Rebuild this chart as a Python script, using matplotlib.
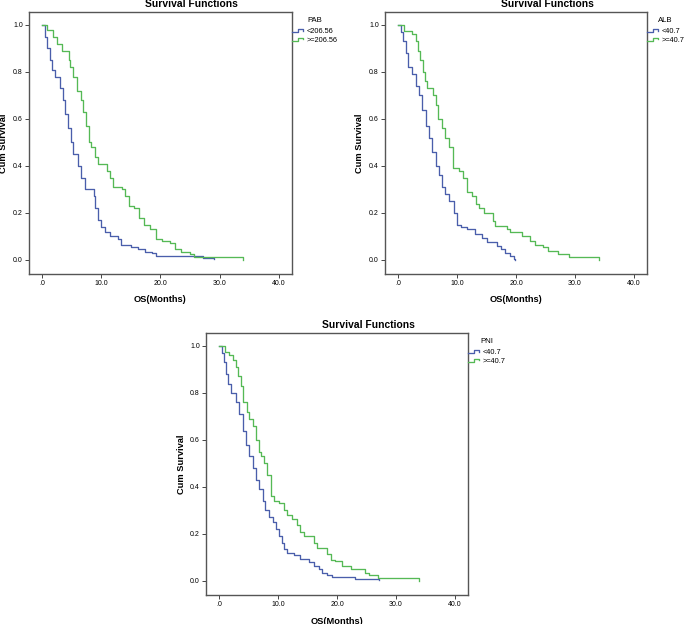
import matplotlib
matplotlib.use('Agg')
import matplotlib.pyplot as plt
import numpy as np
from matplotlib.lines import Line2D
from matplotlib.legend_handler import HandlerBase

plt.rcParams['font.family'] = ['Liberation Sans', 'DejaVu Sans']

# Kaplan-Meier curves: (time, survival after step)
pab_low_t = [0, 0.5, 0.85, 1.3, 1.7, 2.2, 3.0, 3.5, 3.9, 4.4, 4.9, 5.2, 6.0, 6.5, 7.3, 8.7, 9.0, 9.5,
             10.0, 10.6, 11.5, 12.8, 13.4, 15.0, 16.2, 17.4, 18.5, 19.2, 27.2, 29.0]
pab_low_s = [1.0, 0.95, 0.90, 0.85, 0.81, 0.78, 0.73, 0.68, 0.62, 0.56, 0.50, 0.45, 0.40, 0.35, 0.30, 0.27,
             0.22, 0.17, 0.14, 0.12, 0.10, 0.09, 0.065, 0.055, 0.045, 0.035, 0.028, 0.018, 0.008, 0.003]
pab_high_t = [0, 0.8, 1.9, 2.6, 3.4, 4.5, 4.8, 5.3, 5.9, 6.5, 7.0, 7.5, 7.9, 8.3, 9.0, 9.5, 10.9, 11.4,
              11.9, 13.5, 14.0, 14.7, 15.5, 16.4, 17.2, 18.2, 19.2, 20.3, 21.6, 22.5, 23.5, 25.0, 25.7, 34.0]
pab_high_s = [1.0, 0.98, 0.95, 0.92, 0.89, 0.85, 0.82, 0.78, 0.72, 0.68, 0.63, 0.57, 0.50, 0.48, 0.44, 0.41,
              0.38, 0.35, 0.31, 0.30, 0.27, 0.23, 0.22, 0.18, 0.15, 0.13, 0.09, 0.08, 0.07, 0.045, 0.035,
              0.025, 0.012, 0.0]

alb_low_t = [0, 0.45, 0.85, 1.3, 1.7, 2.3, 3.0, 3.5, 4.1, 4.7, 5.2, 5.7, 6.4, 6.9, 7.5, 7.9, 8.6, 9.5,
             10.0, 10.6, 11.7, 13.1, 14.3, 15.1, 16.8, 17.4, 18.2, 19.0, 19.6, 19.9]
alb_low_s = [1.0, 0.97, 0.93, 0.88, 0.82, 0.79, 0.74, 0.70, 0.64, 0.57, 0.52, 0.46, 0.40, 0.36, 0.31, 0.28,
             0.25, 0.20, 0.15, 0.14, 0.13, 0.11, 0.095, 0.075, 0.06, 0.045, 0.03, 0.015, 0.005, 0.0]
alb_high_t = [0, 1.0, 2.4, 3.0, 3.4, 3.8, 4.2, 4.6, 5.0, 5.9, 6.4, 6.8, 7.5, 7.9, 8.6, 9.3, 10.3, 11.0,
              11.7, 12.6, 13.3, 13.8, 14.5, 16.1, 16.5, 18.5, 18.9, 21.0, 22.4, 23.3, 24.5, 25.5, 27.2,
              28.9, 34.0]
alb_high_s = [1.0, 0.975, 0.96, 0.93, 0.89, 0.85, 0.80, 0.76, 0.73, 0.70, 0.66, 0.60, 0.56, 0.52, 0.48,
              0.39, 0.38, 0.35, 0.29, 0.27, 0.24, 0.22, 0.20, 0.165, 0.145, 0.13, 0.12, 0.10, 0.08, 0.065,
              0.055, 0.04, 0.025, 0.012, 0.0]

pni_low_t = [0, 0.45, 0.8, 1.2, 1.6, 2.0, 2.9, 3.4, 4.0, 4.6, 5.1, 5.7, 6.2, 6.8, 7.4, 7.8, 8.5, 9.1,
             9.6, 10.2, 10.6, 11.0, 11.6, 12.7, 13.8, 15.2, 16.1, 16.9, 17.5, 18.3, 19.2, 20.0, 23.1, 27.2]
pni_low_s = [1.0, 0.97, 0.93, 0.88, 0.84, 0.80, 0.76, 0.71, 0.64, 0.58, 0.53, 0.48, 0.43, 0.39, 0.34,
             0.30, 0.27, 0.25, 0.22, 0.19, 0.16, 0.135, 0.12, 0.11, 0.095, 0.08, 0.065, 0.05, 0.035, 0.025,
             0.018, 0.015, 0.008, 0.003]
pni_high_t = [0, 1.1, 1.7, 2.3, 2.9, 3.3, 3.7, 4.1, 4.7, 5.1, 5.7, 6.2, 6.7, 7.1, 7.6, 8.2, 8.8, 9.3,
              10.2, 11.0, 11.6, 12.4, 13.3, 13.8, 14.4, 16.1, 16.6, 18.3, 18.9, 19.7, 20.9, 22.4, 24.7,
              25.4, 26.9, 28.7, 33.9]
pni_high_s = [1.0, 0.975, 0.96, 0.94, 0.91, 0.87, 0.83, 0.76, 0.72, 0.69, 0.66, 0.60, 0.55, 0.53, 0.50,
              0.45, 0.36, 0.34, 0.33, 0.30, 0.28, 0.265, 0.24, 0.21, 0.19, 0.16, 0.14, 0.115, 0.09, 0.085,
              0.065, 0.05, 0.035, 0.025, 0.012, 0.012, 0.0]

panels = [
    ('PAB', ['<206.56', '>=206.56'], (pab_low_t, pab_low_s), (pab_high_t, pab_high_s)),
    ('ALB', ['<40.7', '>=40.7'], (alb_low_t, alb_low_s), (alb_high_t, alb_high_s)),
    ('PNI', ['<40.7', '>=40.7'], (pni_low_t, pni_low_s), (pni_high_t, pni_high_s)),
]

x_ticks = [0, 10, 20, 30, 40]
x_tick_labels = ['.0', '10.0', '20.0', '30.0', '40.0']
y_ticks = [0.0, 0.2, 0.4, 0.6, 0.8, 1.0]
y_tick_labels = ['0.0', '0.2', '0.4', '0.6', '0.8', '1.0']

blue = '#4a5eab'
green = '#55b955'


class StepHandler(HandlerBase):
    # little step glyph like the SPSS legend
    def create_artists(self, legend, orig_handle, xdescent, ydescent, width, height, fontsize, trans):
        xs = np.array([0, 0.45, 0.45, 0.9, 0.9]) * width - xdescent
        ys = np.array([0.2, 0.2, 0.85, 0.85, 0.5]) * height - ydescent
        ln = Line2D(xs, ys, color=orig_handle.get_color(), lw=orig_handle.get_linewidth())
        ln.set_transform(trans)
        return [ln]


W, H = 685, 624
fig = plt.figure(figsize=(W / 100, H / 100), dpi=100)

# axes boxes in pixels: left, top, width, height
boxes = [(29, 12, 263, 262), (385, 12, 262, 262), (206, 333, 262, 262)]

for (name, labels, low, high), (l, t, w, h) in zip(panels, boxes):
    ax = fig.add_axes([l / W, 1 - (t + h) / H, w / W, h / H])
    l1, = ax.step(low[0], low[1], where='post', color=blue, lw=0.95)
    l2, = ax.step(high[0], high[1], where='post', color=green, lw=0.95)
    ax.set_xlim(-2.2, 42.2)
    ax.set_ylim(-0.06, 1.055)
    ax.set_xticks(x_ticks)
    ax.set_xticklabels(x_tick_labels)
    ax.set_yticks(y_ticks)
    ax.set_yticklabels(y_tick_labels)
    ax.tick_params(labelsize=5, length=3, width=0.7, pad=1.5, color='#444444')
    for sp in ax.spines.values():
        sp.set_color('#555555')
        sp.set_linewidth(1.0)
    ax.set_xlabel('OS(Months)', fontsize=6.7, fontweight='bold')
    ax.set_ylabel('Cum Survival', fontsize=6.7, fontweight='bold')
    ax.xaxis.set_label_coords(0.5, -21.5 / h)
    ax.yaxis.set_label_coords(-20.5 / w, 0.5)
    ax.text(0.5 + 31 / w, 1 + 8 / h, 'Survival Functions', transform=ax.transAxes,
            ha='center', va='center', fontsize=7.4, fontweight='bold')
    leg = ax.legend([l1, l2], labels, title=name, loc='upper left',
                    bbox_to_anchor=(1.0, 1 - 5 / h), borderaxespad=0, borderpad=0,
                    frameon=False, fontsize=5.3, title_fontsize=5.6,
                    handlelength=1.7, handletextpad=0.25, labelspacing=0.2,
                    handler_map={Line2D: StepHandler()})
    leg._legend_box.sep = 3

fig.savefig('out.png', dpi=100)
